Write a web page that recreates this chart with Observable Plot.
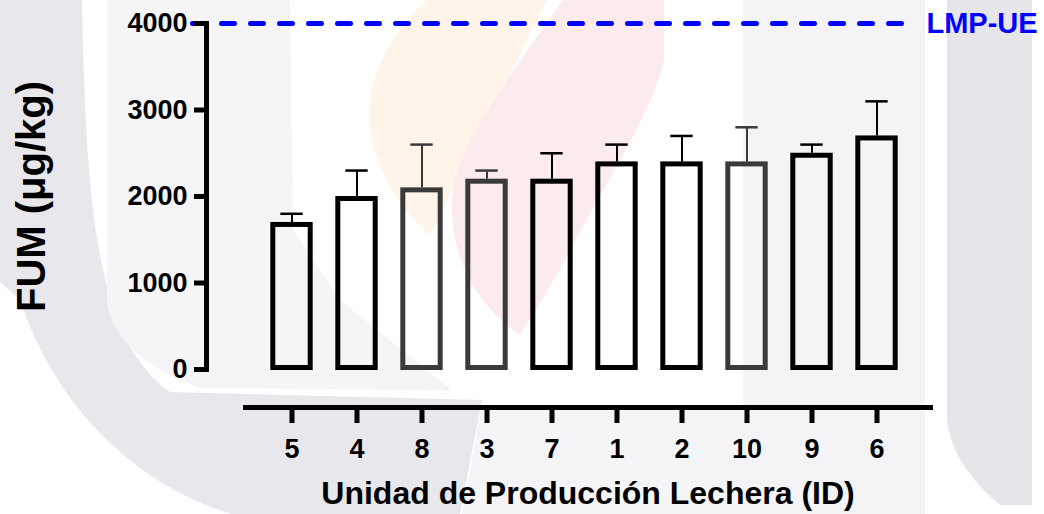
<!DOCTYPE html>
<html>
<head>
<meta charset="utf-8">
<script src="https://cdn.jsdelivr.net/npm/d3@7"></script>
<script src="https://cdn.jsdelivr.net/npm/@observablehq/plot@0.6"></script>
<style>
  html, body { margin: 0; padding: 0; background: #fff; }
  #wrap { position: relative; width: 1044px; height: 514px; overflow: hidden; }
  #bg { position: absolute; left: 0; top: 0; }
  #chart { position: absolute; left: 0; top: 0; }
</style>
</head>
<body>
<div id="wrap">
  <svg id="bg" width="1044" height="514" viewBox="0 0 1044 514">
    <rect width="1044" height="514" fill="#ffffff"/>
    <!-- faint watermark (decorative) -->
    <path d="M0,0 L82,0 C86,200 95,340 170,392 L482,400 L460,514 L232,514 C150,490 60,420 20,300 L0,282 Z" fill="#e8e7ec"/>
    <path d="M107,0 L290,0 L293,230 L340,300 L452,390 L200,388 C150,370 110,340 107,300 Z" fill="#f5f5f8"/>
    <path d="M482,405 L743,405 L743,514 L462,514 Z" fill="#f5f5f8"/>
    <path d="M427,0 L547,0 L430,235 C390,200 365,150 370,100 C375,60 400,25 427,0 Z" fill="#fef4ea"/>
    <path d="M563,0 L664,0 L664,60 C650,120 600,190 560,270 L520,335 C470,300 450,250 452,200 C455,150 500,90 563,0 Z" fill="#fbebec"/>
    <rect x="743" y="0" width="182" height="514" fill="#f4f4f7"/>
    <path d="M947,0 L1032,0 L1032,505 L1000,505 C970,480 950,450 947,420 Z" fill="#e6e5ea"/>
  </svg>
  <div id="chart"></div>
</div>
<script>
// ---- data ----
const ids   = ["5", "4", "8", "3", "7", "1", "2", "10", "9", "6"];
const means = [1700, 2000, 2100, 2200, 2200, 2400, 2400, 2400, 2500, 2700];
const sds   = [100, 300, 500, 100, 300, 200, 300, 400, 100, 400];
const yTicks = [0, 1000, 2000, 3000, 4000];
const limitValue = [4000];
const limitLabel = ["LMP-UE"];
const xTitle = "Unidad de Producción Lechera (ID)";
const yTitle = "FUM (μg/kg)";

const data = ids.map((id, i) => ({id, mean: means[i], sd: sds[i]}));
const grayIds = new Set(["8", "3", "10"]);
const strokeOf = d => grayIds.has(d.id) ? "#3a3a3a" : "#000000";
const font = "'Liberation Sans', Arial, Helvetica, sans-serif";

const chart = Plot.plot({
  width: 1044,
  height: 514,
  marginLeft: 245,
  marginRight: 114,
  marginTop: 23,
  marginBottom: 145,
  style: {background: "transparent", fontFamily: font, fontWeight: "bold", color: "#000"},
  x: {domain: ids, paddingInner: 0, paddingOuter: 0.221, align: 0.41, axis: null},
  y: {domain: [0, 4000], axis: null},
  color: {type: "identity"},
  marks: [
    Plot.ruleY(limitValue, {stroke: "#0000ff", strokeWidth: 5, strokeDasharray: "13,16", strokeLinecap: "round", insetLeft: -52.5, insetRight: 17}),
    Plot.text(limitLabel, {y: limitValue, frameAnchor: "right", textAnchor: "start", dx: -4, fill: "#0000ff", fontSize: 29, fontWeight: "bold"}),
    Plot.frame({anchor: "left", dx: -39, stroke: "#000", strokeWidth: 5}),
    Plot.axisY(yTicks, {anchor: "left", dx: -39, tickSize: 12, tickPadding: 7, strokeWidth: 5, fontSize: 27, tickFormat: d => String(d), label: null, stroke: "#000", fill: "#000"}),
    Plot.frame({anchor: "bottom", dy: 38, stroke: "#000", strokeWidth: 5}),
    Plot.axisX({anchor: "bottom", dy: 38, tickSize: 16, tickPadding: 15, strokeWidth: 5, fontSize: 27, label: null, stroke: "#000", fill: "#000"}),
    Plot.ruleX(data, {x: "id", y1: "mean", y2: d => d.mean + d.sd, stroke: strokeOf, strokeWidth: 2}),
    Plot.tickY(data, {x: "id", y: d => d.mean + d.sd, stroke: strokeOf, strokeWidth: 2.5, insetLeft: 21.3, insetRight: 21.3}),
    Plot.barY(data, {x: "id", y: "mean", fill: "none", stroke: strokeOf, strokeWidth: 5, insetLeft: 13.8, insetRight: 13.8, insetTop: 2.5, insetBottom: 1.5}),
    Plot.text([xTitle], {frameAnchor: "bottom", dy: 124, lineAnchor: "middle", textAnchor: "middle", fontSize: 32, fontWeight: "bold"}),
    Plot.text([yTitle], {frameAnchor: "left", dx: -213, dy: 0, rotate: -90, textAnchor: "middle", lineAnchor: "middle", fontSize: 40, fontWeight: "bold"})
  ]
});
document.getElementById("chart").appendChild(chart);
</script>
</body>
</html>
